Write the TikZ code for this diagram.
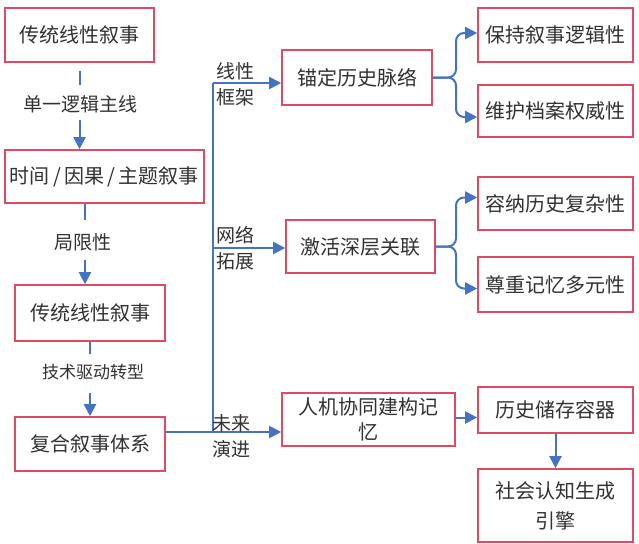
\documentclass[tikz,border=0pt]{standalone}
\usepackage{fontspec}
\newfontfamily\cjk{Noto Sans CJK SC}
\usetikzlibrary{arrows.meta}
\definecolor{boxred}{RGB}{224,74,98}
\definecolor{lineblue}{RGB}{68,114,196}
\definecolor{txt}{RGB}{50,50,50}
\begin{document}
\begin{tikzpicture}[x=1pt,y=-1pt,
  box/.style={draw=boxred, line width=1.6pt, text=txt, font=\cjk\fontsize{20}{26}\selectfont, align=center, inner sep=2pt},
  lbl/.style={text=txt, font=\cjk\fontsize{19}{26}\selectfont, inner sep=1pt, align=left},
  conn/.style={draw=lineblue, line width=2pt},
  arr/.style={conn, -{Triangle[width=12pt,length=12pt]}},
]
\fill[white] (0,0) rectangle (639,543);
\useasboundingbox (0,0) rectangle (639,543);

% left column
\node[box, minimum width=149pt, minimum height=54pt] (b1) at (79.5,35) {传统线性叙事};
\node[box, minimum width=199pt, minimum height=53pt] (b2) at (104.5,176.5) {时间\,/\,因果\,/\,主题叙事};
\node[box, minimum width=150pt, minimum height=56pt] (b3) at (90,313) {传统线性叙事};
\node[box, minimum width=150pt, minimum height=54pt] (b4) at (90,444) {复合叙事体系};

% middle column
\node[box, minimum width=150pt, minimum height=55pt] (m1) at (357,77.5) {锚定历史脉络};
\node[box, minimum width=149pt, minimum height=53pt] (m2) at (360.5,246.5) {激活深层关联};
\node[box, minimum width=173pt, minimum height=53pt, font=\cjk\fontsize{20}{25}\selectfont] (m3) at (368.5,419.5) {人机协同建构记\\忆};

% right column
\node[box, minimum width=155pt, minimum height=54pt] (r1) at (555.5,35) {保持叙事逻辑性};
\node[box, minimum width=155pt, minimum height=52pt] (r2) at (555.5,111) {维护档案权威性};
\node[box, minimum width=155pt, minimum height=53pt] (r3) at (555.5,203.5) {容纳历史复杂性};
\node[box, minimum width=155pt, minimum height=55pt] (r4) at (555.5,284.5) {尊重记忆多元性};
\node[box, minimum width=155pt, minimum height=46pt] (r5) at (555.5,410) {历史储存容器};
\node[box, minimum width=155pt, minimum height=73pt, font=\cjk\fontsize{20}{30}\selectfont] (r6) at (555.5,505.5) {社会认知生成\\引擎};

% left labels
\node[lbl] (l1) at (80,104) {单一逻辑主线};
\node[lbl] (l2) at (83,242) {局限性};
\node[lbl, font=\cjk\fontsize{17}{20}\selectfont] (l3) at (93,372) {技术驱动转型};

% left connectors
\draw[conn, shorten <=8pt, shorten >=9pt] (b1.south) -- (b1.south |- l1.north);
\draw[arr, shorten <=6pt] (b1.south |- l1.south) -- (b1.south |- b2.north);
\coordinate (x2) at (85,0);
\draw[conn, shorten >=12pt] (x2 |- b2.south) -- (x2 |- l2.north);
\draw[arr, shorten <=8pt] (x2 |- l2.south) -- (x2 |- b3.north);
\draw[conn, shorten >=9pt] (b3.south) -- (b3.south |- l3.north);
\draw[arr, shorten <=12pt] (b3.south |- l3.south) -- (b4.north);

% trunk
\coordinate (t1) at (213,83);
\coordinate (t2) at (213,248);
\coordinate (t3) at (213,432);
\draw[conn] (t1) -- (t3);
\draw[arr] (t1) -- (t1 -| m1.west);
\draw[arr] (t2) -- (t2 -| m2.west);
\draw[conn] (b4.east |- t3) -- (t3);
\draw[arr] (t3) -- (t3 -| m3.west);

\node[lbl, anchor=west] (lA) at (215,84.5) {线性\\框架};
\node[lbl, anchor=west] (lB) at (215,248.5) {网络\\拓展};
\node[lbl, anchor=west] (lC) at (211,436) {未来\\演进};

% forks
\coordinate (f1) at (456,77.5);
\draw[arr, rounded corners=8pt] (m1.east) -- (f1) |- ([yshift=2pt]r1.west);
\draw[arr, rounded corners=8pt] (m1.east) -- (f1) |- ([yshift=-6pt]r2.west);
\coordinate (f2) at (456,246.5);
\draw[arr, rounded corners=8pt] (m2.east) -- (f2) |- ([yshift=6pt]r3.west);
\draw[arr, rounded corners=8pt] (m2.east) -- (f2) |- ([yshift=-4pt]r4.west);
\draw[arr] ([yshift=2pt]m3.east) -- ([yshift=2pt]m3.east -| r5.west);
\draw[arr] (r5.south) -- (r6.north);
\end{tikzpicture}
\end{document}
